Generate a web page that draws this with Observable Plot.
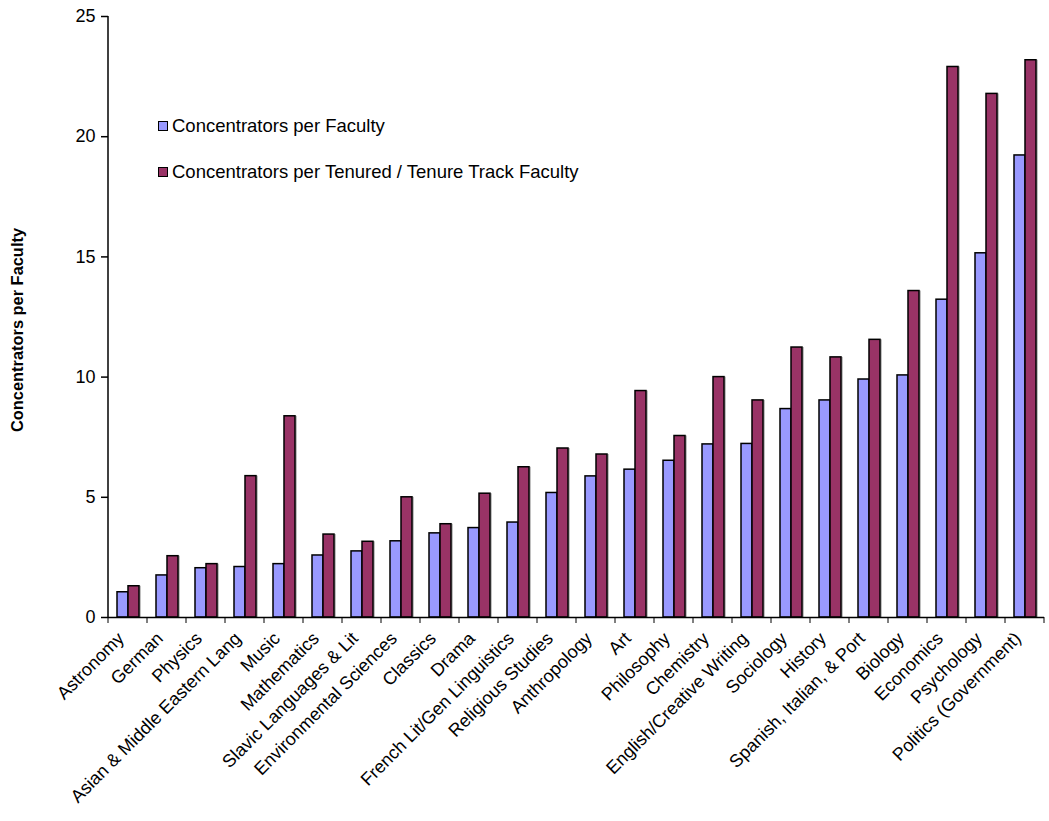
<!DOCTYPE html>
<html><head><meta charset="utf-8">
<script src="https://cdn.jsdelivr.net/npm/d3@7"></script>
<script src="https://cdn.jsdelivr.net/npm/@observablehq/plot@0.6"></script>
<style>
body{margin:0;background:#fff;font-family:"Liberation Sans",Arial,sans-serif;}
#wrap{position:relative;width:1049px;height:821px;}
.legend{position:absolute;left:158px;top:115px;font-size:18.5px;color:#000;line-height:22px;}
.legend .item{display:flex;align-items:center;height:22px;margin-bottom:24px;}
.legend .sw{width:8px;height:8px;border:1.5px solid #000;margin-right:4px;box-sizing:content-box;}
</style></head><body><div id="wrap"></div><script>
const categories = ["Astronomy","German","Physics","Asian & Middle Eastern Lang","Music","Mathematics","Slavic Languages & Lit","Environmental Sciences","Classics","Drama","French Lit/Gen Linguistics","Religious Studies","Anthropology","Art","Philosophy","Chemistry","English/Creative Writing","Sociology","History","Spanish, Italian, & Port","Biology","Economics","Psychology","Politics (Government)"];
const perFaculty = [1.05,1.75,2.05,2.1,2.22,2.58,2.75,3.17,3.5,3.72,3.95,5.18,5.87,6.15,6.52,7.2,7.22,8.67,9.03,9.9,10.07,13.22,15.15,19.22];
const perTenured = [1.3,2.55,2.22,5.88,8.37,3.45,3.15,5.0,3.88,5.15,6.25,7.03,6.78,9.42,7.55,10.0,9.03,11.23,10.82,11.55,13.58,22.9,21.78,23.18];
const seriesNames = ["Concentrators per Faculty","Concentrators per Tenured / Tenure Track Faculty"];
const seriesColors = ["#9999FF","#993366"];
const yTicks = [0,5,10,15,20,25];
const yLabel = "Concentrators per Faculty";

const rows = categories.flatMap((c,i)=>[
  {category:c, series:seriesNames[0], value:perFaculty[i]},
  {category:c, series:seriesNames[1], value:perTenured[i]}
]);

const plot = Plot.plot({
  width:1049, height:821,
  marginLeft:102, marginRight:-1, marginTop:16, marginBottom:204,
  style:{fontFamily:"'Liberation Sans', Arial, sans-serif", fontSize:"18px", color:"#000", background:"#fff", overflow:"visible"},
  fx:{domain:categories, padding:0, axis:null},
  x:{domain:seriesNames, paddingInner:0, paddingOuter:0.75, axis:null},
  y:{domain:[0,25], axis:null},
  color:{domain:seriesNames, range:seriesColors},
  marks:[
    Plot.barY(rows,{fx:"category", x:"series", y:"value", fill:"#c0c0c0", dx:2}),
    Plot.barY(rows,{fx:"category", x:"series", y:"value", fill:"series", stroke:"#000", strokeWidth:1.5}),
    Plot.ruleY([0],{stroke:"#000", strokeWidth:1.5}),
    Plot.axisY({ticks:yTicks, tickSize:7, tickPadding:6, fontSize:18, label:yLabel, labelAnchor:"center", labelOffset:97, labelArrow:false}),
    Plot.axisFx({anchor:"bottom", label:null, tickRotate:-45, tickSize:0, tickPadding:18, fontSize:18, dx:-7})
  ]
});

const svg = d3.select(plot.tagName.toLowerCase()==="svg" ? plot : plot.querySelector("svg"));
const lab = svg.select('[aria-label="y-axis label"]');
lab.attr("transform", (lab.attr("transform")||"") + " translate(0,13)");
lab.selectAll("text").style("font-weight","bold").style("font-size","16.4px");
// category boundary ticks + y-axis line, from the scales
const fxs = plot.scale("fx");
const ys = plot.scale("y");
const y0 = ys.apply(0);
const starts = categories.map(c=>fxs.apply(c));
const bounds = starts.concat([starts[starts.length-1] + fxs.step]);
svg.append("g").selectAll("line").data(bounds).join("line")
  .attr("x1",d=>d).attr("x2",d=>d).attr("y1",y0).attr("y2",y0+6)
  .attr("stroke","#000").attr("stroke-width",1);
svg.append("line").attr("x1",starts[0]).attr("x2",starts[0])
  .attr("y1",ys.apply(25)).attr("y2",y0).attr("stroke","#000").attr("stroke-width",1.5);
svg.selectAll('[aria-label="y-axis tick"] path').attr("stroke-width",1.5);

const wrap = document.getElementById("wrap");
wrap.appendChild(plot);
const leg = document.createElement("div");
leg.className="legend";
seriesNames.forEach((s,i)=>{
  const it=document.createElement("div"); it.className="item";
  const sw=document.createElement("span"); sw.className="sw"; sw.style.background=seriesColors[i];
  const tx=document.createElement("span"); tx.textContent=s;
  it.appendChild(sw); it.appendChild(tx); leg.appendChild(it);
});
wrap.appendChild(leg);
</script></body></html>
